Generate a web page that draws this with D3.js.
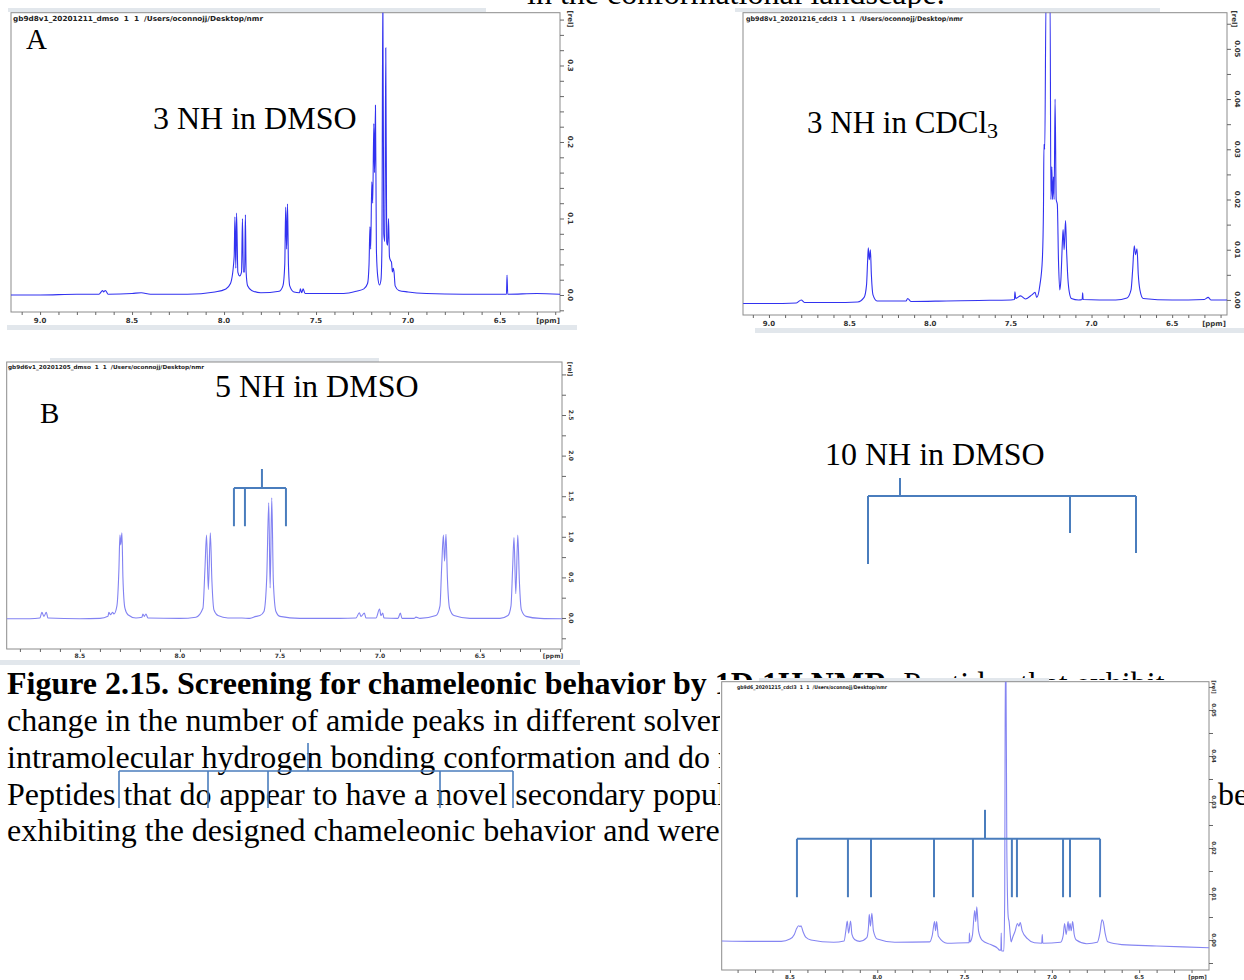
<!DOCTYPE html>
<html>
<head>
<meta charset="utf-8">
<script src="https://cdn.jsdelivr.net/npm/d3@7"></script>
<style>
body { margin: 0; background: #fff; }
svg { display: block; }
</style>
</head>
<body>
<svg id="fig" width="1244" height="980"></svg>
<script>
// spectra, [ppm, rel. intensity]
var specA = [
  [9.16, 0.000], [9.00, 0.000], [8.80, 0.001], [8.68, 0.001], [8.66, 0.006], [8.655, 0.004], [8.645, 0.006],
  [8.63, 0.001], [8.50, 0.002], [8.45, 0.003], [8.40, 0.001], [8.20, 0.001], [8.05, 0.004], [7.99, 0.008],
  [7.965, 0.015], [7.945, 0.05], [7.941, 0.102], [7.936, 0.035], [7.932, 0.107], [7.925, 0.03], [7.915, 0.025],
  [7.905, 0.03], [7.900, 0.100], [7.895, 0.03], [7.888, 0.03], [7.884, 0.105], [7.880, 0.03], [7.872, 0.012],
  [7.85, 0.006], [7.80, 0.003], [7.70, 0.005], [7.68, 0.012], [7.670, 0.04], [7.665, 0.115], [7.660, 0.06],
  [7.655, 0.119], [7.650, 0.04], [7.643, 0.012], [7.62, 0.004], [7.59, 0.003], [7.585, 0.008], [7.578, 0.003],
  [7.57, 0.008], [7.56, 0.002], [7.45, 0.002], [7.35, 0.002], [7.28, 0.005], [7.24, 0.008], [7.22, 0.015],
  [7.212, 0.04], [7.207, 0.089], [7.203, 0.06], [7.197, 0.148], [7.192, 0.12], [7.186, 0.224], [7.182, 0.16],
  [7.177, 0.248], [7.172, 0.06], [7.165, 0.025], [7.155, 0.013], [7.147, 0.02], [7.142, 0.06], [7.137, 0.40],
  [7.132, 0.08], [7.126, 0.07], [7.121, 0.323], [7.116, 0.07], [7.111, 0.065], [7.106, 0.10], [7.101, 0.05],
  [7.095, 0.045], [7.090, 0.043], [7.085, 0.03], [7.080, 0.035], [7.076, 0.03], [7.07, 0.012], [7.05, 0.006],
  [7.00, 0.004], [6.90, 0.002], [6.70, 0.001], [6.50, 0.001], [6.465, 0.001], [6.462, 0.026], [6.458, 0.001],
  [6.30, 0.002], [6.17, 0.001]
];

var specC = [
  [9.16, -0.0007], [9.00, -0.0007], [8.83, -0.0006], [8.80, 0.0000], [8.78, -0.0005], [8.60, -0.0005],
  [8.45, -0.0004], [8.41, 0.0005], [8.395, 0.003], [8.388, 0.008], [8.384, 0.0104], [8.378, 0.008],
  [8.371, 0.0100], [8.365, 0.005], [8.355, 0.001], [8.33, -0.0002], [8.15, -0.0002], [8.14, 0.0003],
  [8.12, -0.0003], [7.90, -0.0002], [7.70, -0.0001], [7.50, 0.0000], [7.478, 0.0001], [7.475, 0.0016],
  [7.470, 0.0003], [7.44, 0.0008], [7.41, 0.0002], [7.37, 0.0010], [7.35, 0.0015], [7.34, 0.0005],
  [7.32, 0.003], [7.305, 0.008], [7.298, 0.018], [7.295, 0.031], [7.290, 0.030], [7.282, 0.06],
  [7.270, 0.06], [7.257, 0.06], [7.252, 0.02], [7.246, 0.0265], [7.242, 0.02], [7.236, 0.0245],
  [7.232, 0.02], [7.226, 0.040], [7.219, 0.02], [7.212, 0.019], [7.205, 0.008], [7.197, 0.002],
  [7.190, 0.004], [7.180, 0.012], [7.176, 0.014], [7.170, 0.010], [7.161, 0.0158], [7.155, 0.010],
  [7.149, 0.0056], [7.140, 0.002], [7.125, 0.0003], [7.08, 0.0000], [7.058, 0.0001], [7.055, 0.0014],
  [7.052, 0.0001], [6.85, 0.0000], [6.78, 0.0004], [6.755, 0.002], [6.745, 0.006], [6.735, 0.0108],
  [6.727, 0.009], [6.718, 0.0102], [6.71, 0.005], [6.70, 0.002], [6.68, 0.0003], [6.50, 0.0000],
  [6.30, 0.0001], [6.277, 0.0005], [6.26, 0.0000], [6.16, 0.0000]
];

var specB = [
  [8.866, -0.01], [8.75, -0.01], [8.70, 0.0], [8.690, 0.07], [8.680, 0.02], [8.668, 0.07], [8.66, 0.0],
  [8.50, -0.01], [8.40, -0.005], [8.36, 0.02], [8.355, 0.07], [8.347, 0.04], [8.337, 0.07], [8.33, 0.05],
  [8.315, 0.15], [8.305, 0.6], [8.300, 1.02], [8.296, 0.9], [8.290, 1.05], [8.285, 0.5], [8.275, 0.12],
  [8.26, 0.04], [8.22, 0.0], [8.19, 0.01], [8.185, 0.05], [8.178, 0.02], [8.17, 0.05], [8.16, 0.0],
  [8.00, -0.005], [7.92, 0.01], [7.885, 0.12], [7.875, 0.6], [7.867, 1.02], [7.858, 0.35], [7.848, 1.05],
  [7.840, 0.45], [7.830, 0.10], [7.81, 0.03], [7.76, 0.0], [7.69, 0.0], [7.65, -0.005], [7.62, 0.02],
  [7.60, 0.03], [7.58, 0.08], [7.566, 0.5], [7.556, 1.42], [7.549, 0.37], [7.541, 1.48], [7.533, 0.45],
  [7.52, 0.08], [7.50, 0.02], [7.40, -0.005], [7.20, -0.005], [7.12, 0.0], [7.103, 0.065], [7.095, 0.02],
  [7.078, 0.06], [7.07, 0.0], [7.02, 0.0], [7.002, 0.11], [6.995, 0.03], [6.986, 0.06], [6.98, 0.0],
  [6.91, -0.005], [6.898, 0.06], [6.89, -0.005], [6.83, -0.005], [6.82, 0.01], [6.80, -0.005], [6.72, 0.03],
  [6.70, 0.15], [6.692, 0.6], [6.683, 1.02], [6.677, 0.7], [6.670, 1.03], [6.663, 0.5], [6.652, 0.12],
  [6.63, 0.03], [6.55, -0.005], [6.40, -0.005], [6.36, 0.03], [6.345, 0.15], [6.337, 0.6], [6.330, 0.99],
  [6.321, 0.3], [6.311, 1.02], [6.303, 0.45], [6.293, 0.10], [6.27, 0.02], [6.20, -0.005], [6.09, -0.01]
];

var specD = [
  [8.891, -0.0002], [8.70, -0.0003], [8.55, -0.0003], [8.50, 0.0002], [8.475, 0.0012], [8.462, 0.0025],
  [8.450, 0.0031], [8.442, 0.0029], [8.437, 0.0031], [8.425, 0.0018], [8.41, 0.0006], [8.38, 0.0000],
  [8.25, -0.0005], [8.19, -0.0002], [8.180, 0.002], [8.172, 0.0041], [8.164, 0.0015], [8.153, 0.0041],
  [8.145, 0.0012], [8.13, 0.0001], [8.10, -0.0003], [8.06, 0.0005], [8.050, 0.003], [8.046, 0.0056],
  [8.039, 0.003], [8.031, 0.0058], [8.022, 0.002], [8.00, 0.0002], [7.90, -0.0005], [7.70, -0.0004],
  [7.685, 0.001], [7.672, 0.004], [7.666, 0.002], [7.660, 0.0040], [7.650, 0.0008], [7.60, -0.0007],
  [7.48, -0.0006], [7.474, -0.0006], [7.472, 0.0015], [7.469, -0.0004], [7.455, 0.001], [7.442, 0.0064],
  [7.436, 0.004], [7.430, 0.0072], [7.420, 0.002], [7.40, 0.0000], [7.35, -0.0010], [7.31, -0.0018],
  [7.300, -0.0022], [7.292, -0.0022], [7.290, 0.0015], [7.288, -0.0024], [7.275, -0.0024], [7.270, 0.01],
  [7.268, 0.04], [7.266, 0.06], [7.263, 0.06], [7.258, 0.02], [7.250, 0.005], [7.245, 0.004], [7.238, 0.001],
  [7.233, -0.0004], [7.225, 0.0005], [7.21, 0.002], [7.197, 0.0036], [7.189, 0.003], [7.181, 0.0038],
  [7.17, 0.002], [7.14, 0.0003], [7.10, -0.0006], [7.058, -0.0007], [7.055, 0.0012], [7.052, -0.0007],
  [6.95, -0.0005], [6.935, 0.001], [6.927, 0.0036], [6.918, 0.0012], [6.907, 0.0040], [6.902, 0.002],
  [6.896, 0.0036], [6.889, 0.002], [6.881, 0.0040], [6.872, 0.0012], [6.86, 0.0], [6.80, -0.0008],
  [6.74, -0.0005], [6.725, 0.0015], [6.713, 0.0044], [6.706, 0.004], [6.695, 0.0015], [6.68, -0.0004],
  [6.60, -0.0010], [6.40, -0.0013], [6.25, -0.0015], [6.10, -0.0017]
];

// tick labels
var ppmLabelsTop = [9.0, 8.5, 8.0, 7.5, 7.0, 6.5];
var ppmLabelsBottom = [8.5, 8.0, 7.5, 7.0, 6.5];
var relLabelsA = [0.0, 0.1, 0.2, 0.3];
var relLabelsB = [0.0, 0.5, 1.0, 1.5, 2.0, 2.5];
var relLabelsCDCl3 = [0.00, 0.01, 0.02, 0.03, 0.04, 0.05];

// NH assignments (brackets), in ppm / rel units of their panel
var bracketB = { stem: 7.59, top: 1.835, bar: 1.6, drops: [7.73, 7.675, 7.47], foot: 1.13 };
var bracketD = { stem: 7.383, top: 0.0283, bar: 0.022,
  drops: [8.46, 8.168, 8.036, 7.675, 7.452, 7.229, 7.2, 6.936, 6.896, 6.724], foot: 0.0093 };

var svg = d3.select("#fig");
var serif = '"Liberation Serif", "Times New Roman", serif';
var sans = '"DejaVu Sans", sans-serif';
var bracketColor = "#4a7dbd";

function range01(lo, hi, step) {
  return d3.range(Math.round(lo / step), Math.round(hi / step) + 1).map(function (i) { return +(i * step).toFixed(4); });
}

// tail of the paragraph above, cut by the page edge
svg.append("text").attr("x", 527).attr("y", 4)
  .style("font-family", serif).style("font-size", "32px")
  .text("in the conformational landscape.");

function drawPanel(p) {
  var g = svg.append("g");
  if (p.bg) g.append("rect").attr("x", p.bg[0]).attr("y", p.bg[1]).attr("width", p.bg[2]).attr("height", p.bg[3]).attr("fill", "#fff");
  p.strips.forEach(function (s) {
    g.append("rect").attr("x", s[0]).attr("y", s[1]).attr("width", s[2]).attr("height", s[3]).attr("fill", "#e2e7ec");
  });

  var x = d3.scaleLinear().domain(p.ppm).range([p.left, p.right]);
  var y = d3.scaleLinear().domain(p.rel).range([p.bottom, p.top]);

  g.append("clipPath").attr("id", "clip" + p.name).append("rect")
    .attr("x", p.left).attr("y", p.top).attr("width", p.right - p.left).attr("height", p.bottom - p.top);

  g.append("rect").attr("x", p.left).attr("y", p.top).attr("width", p.right - p.left).attr("height", p.bottom - p.top)
    .attr("fill", "#fff").attr("stroke", "#8c8c8c").attr("stroke-width", 1);

  g.append("text").attr("x", p.header[0]).attr("y", p.header[1])
    .attr("textLength", p.header[2]).attr("lengthAdjust", "spacingAndGlyphs")
    .style("white-space", "pre").style("font-family", sans).style("font-weight", "bold")
    .style("font-size", p.header[3] + "px").attr("fill", "#222")
    .text(p.title);

  g.append("path").datum(p.data)
    .attr("clip-path", "url(#clip" + p.name + ")")
    .attr("fill", "none").attr("stroke", p.color).attr("stroke-width", 1.1)
    .attr("d", d3.line().x(function (d) { return x(d[0]); }).y(function (d) { return y(d[1]); }).curve(d3.curveMonotoneX));

  // bottom ppm axis
  var xa = g.append("g").attr("transform", "translate(0," + p.bottom + ")")
    .call(d3.axisBottom(x).tickValues(p.xMinor).tickSize(3).tickFormat(""));
  xa.select(".domain").remove();
  xa.selectAll("line").attr("stroke", "#666");
  g.selectAll(null).data(p.xLabels).enter().append("text")
    .attr("x", function (d) { return x(d); }).attr("y", p.xLabelY)
    .attr("text-anchor", "middle").style("font-family", sans).style("font-weight", "bold")
    .style("font-size", p.fs + "px").attr("fill", "#333")
    .text(function (d) { return d.toFixed(1); });
  g.append("text").attr("x", p.ppmPos[0]).attr("y", p.ppmPos[1]).attr("text-anchor", "middle")
    .style("font-family", sans).style("font-weight", "bold").style("font-size", p.fs + "px").attr("fill", "#333")
    .text("[ppm]");

  // right rel axis
  var ya = g.append("g").attr("transform", "translate(" + p.right + ",0)")
    .call(d3.axisRight(y).tickValues(p.yMinor).tickSize(4).tickFormat(""));
  ya.select(".domain").remove();
  ya.selectAll("line").attr("stroke", "#666");
  g.selectAll(null).data(p.yLabels).enter().append("text")
    .attr("transform", function (d) { return "translate(" + p.yLabelX + "," + y(d) + ") rotate(90)"; })
    .attr("text-anchor", "middle").attr("dy", "0.35em")
    .style("font-family", sans).style("font-weight", "bold").style("font-size", p.fs + "px").attr("fill", "#333")
    .text(d3.format(p.yFmt));
  g.append("text").attr("transform", "translate(" + p.relPos[0] + "," + p.relPos[1] + ") rotate(90)")
    .attr("text-anchor", "middle").attr("dy", "0.35em")
    .style("font-family", sans).style("font-weight", "bold").style("font-size", p.fs + "px").attr("fill", "#333")
    .text("[rel]");

  if (p.bracket) {
    var b = p.bracket;
    var bg = g.append("g").attr("fill", "none").attr("stroke", bracketColor).attr("stroke-width", 2);
    bg.append("line").attr("x1", x(b.stem)).attr("x2", x(b.stem)).attr("y1", y(b.top)).attr("y2", y(b.bar));
    bg.append("line").attr("x1", x(d3.max(b.drops))).attr("x2", x(d3.min(b.drops))).attr("y1", y(b.bar)).attr("y2", y(b.bar));
    bg.selectAll(null).data(b.drops).enter().append("line")
      .attr("x1", function (d) { return x(d); }).attr("x2", function (d) { return x(d); })
      .attr("y1", y(b.bar)).attr("y2", y(b.foot));
  }
  return { x: x, y: y };
}

function label(t, px, py, size) {
  return svg.append("text").attr("x", px).attr("y", py)
    .style("font-family", serif).style("font-size", size + "px").attr("fill", "#000").text(t);
}

// A: 3 NH in DMSO
drawPanel({
  name: "A", data: specA, color: "#3232f0",
  left: 11, right: 560, top: 12.7, bottom: 312, ppm: [9.158, 6.174], rel: [-0.0222, 0.369],
  xMinor: range01(6.2, 9.1, 0.1), xLabels: ppmLabelsTop, xLabelY: 322.5,
  yMinor: range01(-0.02, 0.36, 0.02), yLabels: relLabelsA, yFmt: ".1f", yLabelX: 570,
  header: [13, 20.5, 250, 7], title: "gb9d8v1_20201211_dmso  1  1  /Users/oconnojj/Desktop/nmr",
  relPos: [570, 19], ppmPos: [548, 322.5], fs: 7,
  strips: [[8, 8, 478, 4], [7, 325, 570, 5]]
});
label("A", 26, 49, 29);
label("3 NH in DMSO", 153, 129, 32);

// top right: 3 NH in CDCl3
drawPanel({
  name: "C", data: specC, color: "#3232f0",
  left: 743, right: 1227, top: 12.7, bottom: 315, ppm: [9.161, 6.16], rel: [-0.003, 0.0572],
  xMinor: range01(6.2, 9.1, 0.1), xLabels: ppmLabelsTop, xLabelY: 325.5,
  yMinor: range01(0, 0.055, 0.005), yLabels: relLabelsCDCl3, yFmt: ".2f", yLabelX: 1237,
  header: [746, 20.5, 217, 6.5], title: "gb9d8v1_20201216_cdcl3  1  1  /Users/oconnojj/Desktop/nmr",
  relPos: [1234, 19], ppmPos: [1214, 325.5], fs: 7,
  strips: [[735, 8, 425, 4], [755, 328, 489, 5]]
});
var cd = label("3 NH in CDCl", 807, 133, 31);
cd.append("tspan").attr("dy", 5).style("font-size", "22px").text("3");

// B: 5 NH in DMSO
drawPanel({
  name: "B", data: specB, color: "#8282f2",
  left: 6.7, right: 562, top: 362, bottom: 649, ppm: [8.866, 6.09], rel: [-0.382, 3.153],
  xMinor: range01(6.1, 8.8, 0.1), xLabels: ppmLabelsBottom, xLabelY: 657.5,
  yMinor: range01(-0.25, 3.0, 0.25), yLabels: relLabelsB, yFmt: ".1f", yLabelX: 571,
  header: [8, 369, 196, 5.5], title: "gb9d6v1_20201205_dmso  1  1  /Users/oconnojj/Desktop/nmr",
  relPos: [570.6, 369], ppmPos: [553, 657.5], fs: 6,
  strips: [[50, 358, 329, 4], [0, 660, 580, 5]],
  bracket: bracketB
});
label("B", 40, 423, 29);
label("5 NH in DMSO", 215, 397, 32);

// caption
var capLines = [
  [["Figure 2.15. Screening for chameleonic behavior by 1D 1H NMR.", "bold"], [" Peptides that exhibit", "normal"]],
  [["change in the number of amide peaks in different solvents likely adopt a single", "normal"]],
  [["intramolecular hydrogen bonding conformation and do not change in DMSO.", "normal"]],
  [["Peptides that do appear to have a novel secondary population", "normal"]],
  [["exhibiting the designed chameleonic behavior and were chosen for study.", "normal"]]
];
var capBase = [694, 731, 768, 804.5, 841];
capLines.forEach(function (ln, i) {
  var t = svg.append("text").attr("x", 7).attr("y", capBase[i])
    .style("font-family", serif).style("font-size", "32px").attr("fill", "#000");
  ln.forEach(function (s) { t.append("tspan").style("font-weight", s[1]).text(s[0]); });
  if (i === 3) t.append("tspan").attr("x", 1218).text("be");
});

// bracket drawn over the caption text and the 10 NH bracket (page coordinates)
var page = d3.scaleLinear().domain([0, 1244]).range([0, 1244]);
var capBracket = { stem: 308, top: 743, bar: 771, drops: [119, 208, 268, 440, 513], foot: 808 };
var nh10Bracket = { stem: 900, top: 478, bar: 496, drops: [868, 1070, 1136], foot: [564, 533, 553] };

function pageBracket(b, w) {
  var g = svg.append("g").attr("stroke", bracketColor).attr("stroke-width", w).attr("fill", "none");
  g.append("line").attr("x1", page(b.stem)).attr("x2", page(b.stem)).attr("y1", page(b.top)).attr("y2", page(b.bar));
  g.append("line").attr("x1", page(d3.min(b.drops))).attr("x2", page(d3.max(b.drops))).attr("y1", page(b.bar)).attr("y2", page(b.bar));
  g.selectAll(null).data(b.drops).enter().append("line")
    .attr("x1", function (d) { return page(d); }).attr("x2", function (d) { return page(d); })
    .attr("y1", page(b.bar))
    .attr("y2", function (d, i) { return page(Array.isArray(b.foot) ? b.foot[i] : b.foot); });
}
pageBracket(capBracket, 1.6);

label("10 NH in DMSO", 825, 465, 32);
pageBracket(nh10Bracket, 2);

// bottom right: 10 NH in CDCl3, pasted over the caption
drawPanel({
  name: "D", data: specD, color: "#8585f2",
  left: 721.7, right: 1209, top: 681.7, bottom: 970, ppm: [8.891, 6.10], rel: [-0.00652, 0.05615],
  xMinor: range01(6.2, 8.8, 0.1), xLabels: ppmLabelsBottom, xLabelY: 978.5,
  yMinor: range01(-0.005, 0.055, 0.005), yLabels: relLabelsCDCl3, yFmt: ".2f", yLabelX: 1214,
  header: [737, 689, 150, 5], title: "gb9d6_20201215_cdcl3  1  1  /Users/oconnojj/Desktop/nmr",
  relPos: [1214, 687], ppmPos: [1197.5, 978.5], fs: 5.5,
  bg: [720, 680, 497, 300],
  strips: [[759, 678, 290, 4]],
  bracket: bracketD
});
</script>
</body>
</html>
